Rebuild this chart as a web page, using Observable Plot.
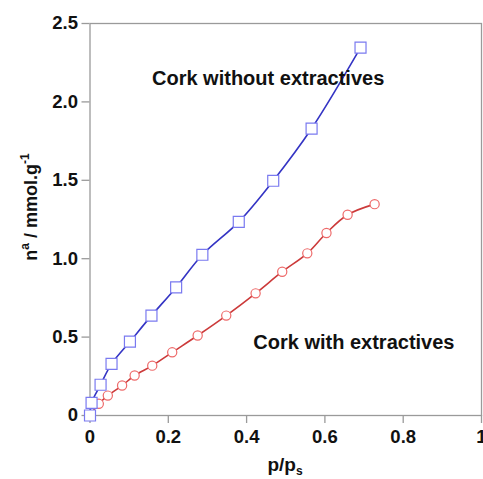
<!DOCTYPE html>
<html>
<head>
<meta charset="utf-8">
<script src="https://cdn.jsdelivr.net/npm/d3@7"></script>
<script src="https://cdn.jsdelivr.net/npm/@observablehq/plot@0.6"></script>
<style>
  html, body { margin: 0; padding: 0; background: #fff; overflow: hidden; }
  #chart svg { display: block; }
</style>
</head>
<body>
<div id="chart"></div>
<script>
// Adsorption isotherms of cork, relative pressure vs. amount adsorbed
const withoutP = [0, 0.004, 0.027, 0.055, 0.102, 0.157, 0.22, 0.287, 0.38, 0.468, 0.566, 0.691];
const withoutN = [0, 0.081, 0.196, 0.329, 0.471, 0.637, 0.817, 1.025, 1.235, 1.497, 1.83, 2.346];

const withP = [0, 0.0225, 0.0455, 0.082, 0.114, 0.159, 0.21, 0.275, 0.348, 0.423, 0.491, 0.555, 0.604, 0.658, 0.727];
const withN = [0, 0.0745, 0.127, 0.191, 0.255, 0.318, 0.403, 0.51, 0.637, 0.779, 0.917, 1.034, 1.164, 1.28, 1.348];

const xTicks = [0, 0.2, 0.4, 0.6, 0.8, 1];
const xTickLabels = ["0", "0.2", "0.4", "0.6", "0.8", "1"];
const yTicks = [0, 0.5, 1, 1.5, 2, 2.5];
const yTickLabels = ["0", "0.5", "1.0", "1.5", "2.0", "2.5"];

const noteText = ["Cork without extractives", "Cork with extractives"];
const noteP = [0.455, 0.674];
const noteN = [2.15, 0.462];

const without = withoutP.map((p, i) => ({p, n: withoutN[i]}));
const withE = withP.map((p, i) => ({p, n: withN[i]}));
const notes = noteText.map((t, i) => ({t, p: noteP[i], n: noteN[i]}));

const font = "'Liberation Sans', Arial, Helvetica, sans-serif";

const chart = Plot.plot({
  width: 483,
  height: 479,
  marginLeft: 89.5,
  marginRight: 2,
  marginTop: 23,
  marginBottom: 64,
  x: {domain: [0, 1]},
  y: {domain: [0, 2.5]},
  style: {fontFamily: font, fontSize: "18.5px", fontWeight: "bold", color: "#111", background: "#fff"},
  marks: [
    Plot.frame({stroke: "#9a9a9a", strokeWidth: 1.3}),
    Plot.axisX({
      ticks: xTicks,
      tickFormat: d => xTickLabels[xTicks.indexOf(d)],
      tickSize: 8, tickPadding: 6, stroke: "#9a9a9a", strokeWidth: 1.3,
      fill: "#111", fontSize: 18.5, label: null
    }),
    Plot.axisY({
      ticks: yTicks,
      tickFormat: d => yTickLabels[yTicks.indexOf(d)],
      tickSize: 8, tickPadding: 4, stroke: "#9a9a9a", strokeWidth: 1.3,
      fill: "#111", fontSize: 18.5, label: null
    }),
    Plot.line(withE, {x: "p", y: "n", stroke: "#cc3a3a", strokeWidth: 1.6, curve: "catmull-rom"}),
    Plot.dot(withE, {x: "p", y: "n", r: 4.6, symbol: "circle", stroke: "#ee6a6a", strokeWidth: 1.2, fill: "#fff"}),
    Plot.line(without, {x: "p", y: "n", stroke: "#3434c4", strokeWidth: 1.6, curve: "catmull-rom"}),
    Plot.dot(without, {x: "p", y: "n", r: 6.2, symbol: "square", stroke: "#7a7af0", strokeWidth: 1.2, fill: "#fff"}),
    Plot.text(notes, {x: "p", y: "n", text: "t", fontSize: 20, fontWeight: "bold", fill: "#111", lineAnchor: "middle"})
  ]
});

const svg = d3.select(chart);

// Y axis title with superscripts
const yTitle = svg.append("text")
  .attr("transform", "translate(37,207) rotate(-90)")
  .attr("text-anchor", "middle")
  .attr("font-family", font)
  .attr("font-size", 18)
  .attr("font-weight", "bold")
  .attr("fill", "#111");
yTitle.append("tspan").text("n");
yTitle.append("tspan").attr("dy", -8).attr("font-size", 12).text("a");
yTitle.append("tspan").attr("dy", 8).text(" / mmol.g");
yTitle.append("tspan").attr("dy", -8).attr("font-size", 12).text("-1");

// X axis title with subscript
const xTitle = svg.append("text")
  .attr("x", 285)
  .attr("y", 471)
  .attr("text-anchor", "middle")
  .attr("font-family", font)
  .attr("font-size", 19)
  .attr("font-weight", "bold")
  .attr("fill", "#111");
xTitle.append("tspan").text("p/p");
xTitle.append("tspan").attr("dy", 4).attr("font-size", 12).text("s");

document.getElementById("chart").appendChild(chart);
</script>
</body>
</html>
